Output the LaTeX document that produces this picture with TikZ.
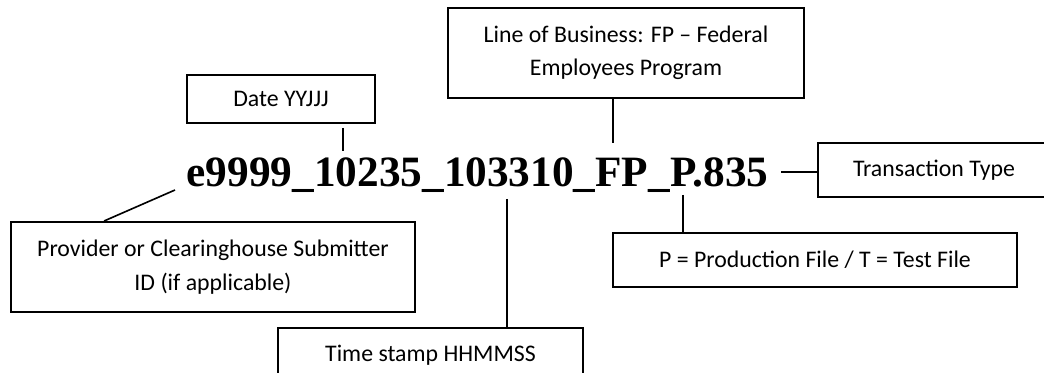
\documentclass[tikz,border=0pt]{standalone}
\usepackage{fontspec}
\setmainfont{Carlito}
\newfontfamily\namefont{Liberation Serif}
\usetikzlibrary{calc}

\begin{document}
\begin{tikzpicture}[x=0.462pt, y=-0.462pt,
    part/.style={draw, line width=0.9pt, inner sep=0pt, align=center, font=\fontsize{11}{15.4}\selectfont},
    tick/.style={line width=0.75pt}]
    \clip (0,0) rectangle (1044,373);
    % file name
    \node[anchor=base, font=\namefont\bfseries\fontsize{20}{24}\selectfont] (fname) at (477.5,186.7) {e9999\_10235\_103310\_FP\_P.835};
    % boxes
    \node[part, minimum width=164.5pt, minimum height=41.6pt] (lob) at (626,53) {Line of Business: FP -- Federal\\Employees Program};
    \node[part, minimum width=86.9pt, minimum height=22.2pt] (date) at (281,99) {Date YYJJJ};
    \node[part, minimum width=107.2pt, minimum height=24.9pt] (trans) at (934,170) {Transaction Type};
    \node[part, minimum width=186.6pt, minimum height=41.6pt] (prov) at (213,267) {Provider or Clearinghouse Submitter\\ID (if applicable)};
    \node[part, minimum width=186.6pt, minimum height=24.9pt] (pfile) at (815,260) {P = Production File / T = Test File};
    \node[part, minimum width=140.9pt, minimum height=24.9pt] (tstamp) at (430.5,355) {Time stamp HHMMSS};
    % tips on the file name
    \coordinate (dateTip) at (343,151);
    \coordinate (lobTip) at (613,143);
    \coordinate (transTip) at (781,172);
    \coordinate (provTip) at (175,190);
    \coordinate (pTip) at (683,195);
    \coordinate (timeTip) at (507,199);
    % connectors
    \draw[tick] ($(dateTip |- date.south)+(0,4)$) -- (dateTip);
    \draw[tick] (lobTip |- lob.south) -- (lobTip);
    \draw[tick] (transTip) -- (transTip -| trans.west);
    \draw[tick] (provTip) -- ($(prov.north west)+(94,0)$);
    \draw[tick] (pTip) -- (pTip |- pfile.north);
    \draw[tick] (timeTip) -- (timeTip |- tstamp.north);
\end{tikzpicture}
\end{document}
